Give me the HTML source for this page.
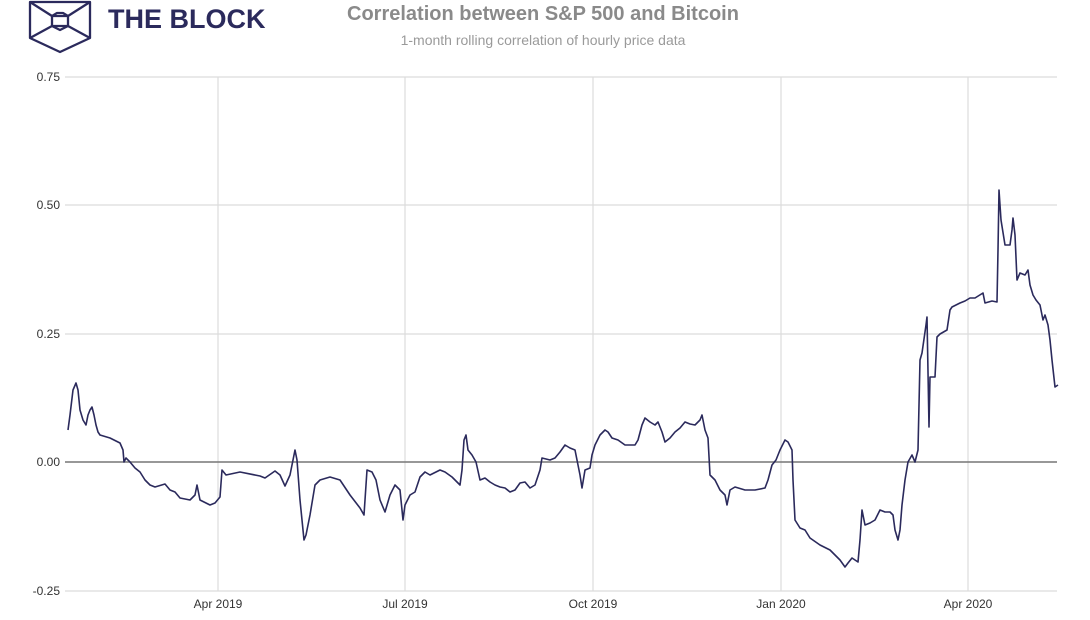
<!DOCTYPE html>
<html><head><meta charset="utf-8"><style>
body{margin:0;background:#fff;width:1090px;height:615px;overflow:hidden;font-family:"Liberation Sans",sans-serif}
</style></head><body>
<svg width="1090" height="615" viewBox="0 0 1090 615" xmlns="http://www.w3.org/2000/svg" font-family="Liberation Sans, sans-serif">
<g stroke="#2b2a5c" stroke-width="2.3" fill="none" stroke-linejoin="round">
<polygon points="30,2 90,2 90,38 60,52 30,38"/>
<polyline points="30,2 52,16 68,16 90,2"/>
<polyline points="30,38 52,26 68,26 90,38"/>
<polygon points="52,16 57,13 63,13 68,16 68,26 60,30 52,26"/>
</g>
<text x="108" y="28" font-size="27" font-weight="bold" fill="#2b2a5c">THE BLOCK</text>
<text x="543" y="20" font-size="20" font-weight="bold" fill="#8a8a8a" text-anchor="middle">Correlation between S&amp;P 500 and Bitcoin</text>
<text x="543" y="45" font-size="14" fill="#9a9a9a" text-anchor="middle">1-month rolling correlation of hourly price data</text>
<g stroke="#dcdcdc" stroke-width="1.2">
<line x1="65" y1="77" x2="1057" y2="77"/><line x1="65" y1="205" x2="1057" y2="205"/>
<line x1="65" y1="334" x2="1057" y2="334"/><line x1="65" y1="591" x2="1057" y2="591"/>
<line x1="218" y1="77" x2="218" y2="591"/><line x1="405" y1="77" x2="405" y2="591"/>
<line x1="593" y1="77" x2="593" y2="591"/><line x1="781" y1="77" x2="781" y2="591"/>
<line x1="968" y1="77" x2="968" y2="591"/>
</g>
<line x1="65" y1="462" x2="1057" y2="462" stroke="#777" stroke-width="1.5"/>
<g font-size="12" fill="#333" text-anchor="end">
<text x="60" y="81">0.75</text><text x="60" y="209">0.50</text><text x="60" y="338">0.25</text>
<text x="60" y="466">0.00</text><text x="60" y="595">-0.25</text>
</g>
<g font-size="12" fill="#333" text-anchor="middle">
<text x="218" y="608">Apr 2019</text><text x="405" y="608">Jul 2019</text><text x="593" y="608">Oct 2019</text>
<text x="781" y="608">Jan 2020</text><text x="968" y="608">Apr 2020</text>
</g>
<polyline fill="none" stroke="#2b2a5c" stroke-width="1.6" stroke-linejoin="round" points="68,430 70,415 73,390 76,383 78,390 80,410 83,420 86,425 88,415 90,410 92,407 94,415 96,425 98,432 100,435 110,438 120,443 123,450 124,462 126,458 130,462 135,468 140,472 145,480 150,485 155,487 165,484 170,490 175,492 180,498 190,500 195,495 197,485 200,500 210,505 215,503 220,497 222,470 226,475 240,472 260,476 265,478 275,471 280,475 285,486 290,475 295,450 297,460 300,500 304,540 306,535 310,515 315,485 320,480 330,477 340,480 350,495 360,508 364,515 365,500 367,470 372,472 376,480 380,500 385,512 390,495 395,485 400,490 403,520 405,505 410,495 415,492 420,477 425,472 430,475 440,470 445,472 452,477 455,480 460,485 462,470 464,440 466,435 468,450 472,455 476,462 480,480 485,478 490,482 495,485 500,487 505,488 510,492 515,490 520,483 525,482 530,488 535,485 540,470 542,458 550,460 555,458 560,452 565,445 570,448 575,450 580,475 582,488 585,470 590,468 592,455 595,445 600,435 605,430 608,432 612,438 618,440 625,445 635,445 638,440 642,425 645,418 650,422 655,425 658,422 662,432 665,442 670,438 675,432 680,428 685,422 690,424 695,425 700,420 702,415 705,430 708,438 710,475 715,480 720,490 725,495 727,505 730,490 735,487 745,490 755,490 765,488 768,480 772,465 776,460 780,450 785,440 788,442 792,450 793,480 795,520 800,528 805,530 810,538 820,545 830,550 835,555 840,560 845,567 848,563 852,558 855,560 858,562 860,540 862,510 865,525 870,523 875,520 880,510 885,512 890,512 893,515 895,530 898,540 900,530 902,505 905,480 908,462 912,455 915,462 918,450 920,360 922,353 926,325 927,317 929,427 930,377 935,377 937,337 940,334 947,330 950,310 952,307 960,303 965,301 970,298 975,298 983,293 985,303 992,301 997,302 998,250 999,190 1001,220 1005,245 1010,245 1012,230 1013,218 1015,235 1017,280 1020,273 1025,275 1028,270 1030,285 1033,295 1036,300 1040,305 1043,320 1045,315 1048,325 1050,340 1052,360 1055,387 1058,385"/>
</svg>
</body></html>
